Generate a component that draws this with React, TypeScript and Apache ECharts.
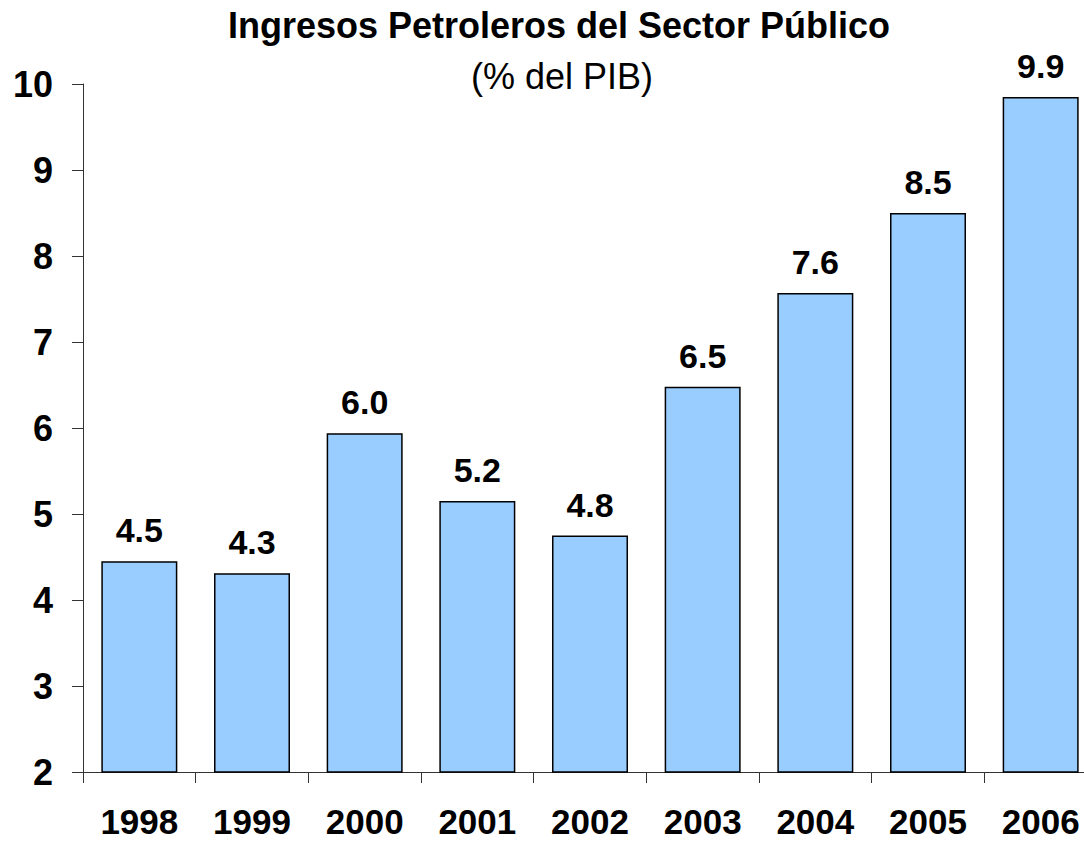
import React, { useEffect, useRef } from "react";
import * as echarts from "echarts";

const years = ["1998", "1999", "2000", "2001", "2002", "2003", "2004", "2005", "2006"];
const values = [4.45, 4.31, 5.94, 5.15, 4.75, 6.48, 7.57, 8.5, 9.85];
const labels = ["4.5", "4.3", "6.0", "5.2", "4.8", "6.5", "7.6", "8.5", "9.9"];
const yTicks = { min: 2, max: 10, interval: 1 };

const FONT = "'Liberation Sans', Arial, sans-serif";

export default function App() {
  const ref = useRef<HTMLDivElement>(null);
  useEffect(() => {
    if (!ref.current) return;
    const chart = echarts.init(ref.current, undefined, { renderer: "svg" });
    chart.setOption({
      animation: false,
      backgroundColor: "#ffffff",
      title: [
        {
          text: "Ingresos Petroleros del Sector Público",
          left: 554,
          top: 2,
          textAlign: "center",
          textStyle: { fontFamily: FONT, fontSize: 36, fontWeight: "bold", color: "#000" },
        },
        {
          text: "(% del PIB)",
          left: 557,
          top: 53,
          textAlign: "center",
          textStyle: { fontFamily: FONT, fontSize: 36, fontWeight: "normal", color: "#000" },
        },
      ],
      grid: { left: 83, top: 84, bottom: 69, right: 1, containLabel: false },
      xAxis: {
        type: "category",
        data: years,
        axisLine: { lineStyle: { color: "#333", width: 1 } },
        axisTick: { show: true, length: 11, lineStyle: { color: "#333" } },
        axisLabel: {
          margin: 36,
          fontFamily: FONT,
          fontSize: 35,
          lineHeight: 26,
          fontWeight: "bold",
          color: "#000",
          interval: 0,
        },
      },
      yAxis: {
        type: "value",
        min: yTicks.min,
        max: yTicks.max,
        interval: yTicks.interval,
        splitLine: { show: false },
        axisLine: { show: true, lineStyle: { color: "#333", width: 1 } },
        axisTick: { show: true, length: 11, lineStyle: { color: "#333" } },
        axisLabel: {
          margin: 30,
          fontFamily: FONT,
          fontSize: 36,
          fontWeight: "bold",
          color: "#000",
        },
      },
      series: [
        {
          type: "bar",
          data: values,
          barWidth: 76,
          itemStyle: { color: "#99CCFF", borderColor: "#000", borderWidth: 1.5 },
          label: {
            show: true,
            position: "top",
            distance: 14,
            fontFamily: FONT,
            fontSize: 34,
            fontWeight: "bold",
            color: "#000",
            formatter: (p: any) => labels[p.dataIndex],
          },
        },
      ],
    });
    return () => chart.dispose();
  }, []);
  return (
    <div
      style={{ position: "fixed", left: 0, top: 0, width: 1084, height: 841, overflow: "hidden", background: "#fff" }}
    >
      <div ref={ref} style={{ width: 1098, height: 841 }} />
    </div>
  );
}
